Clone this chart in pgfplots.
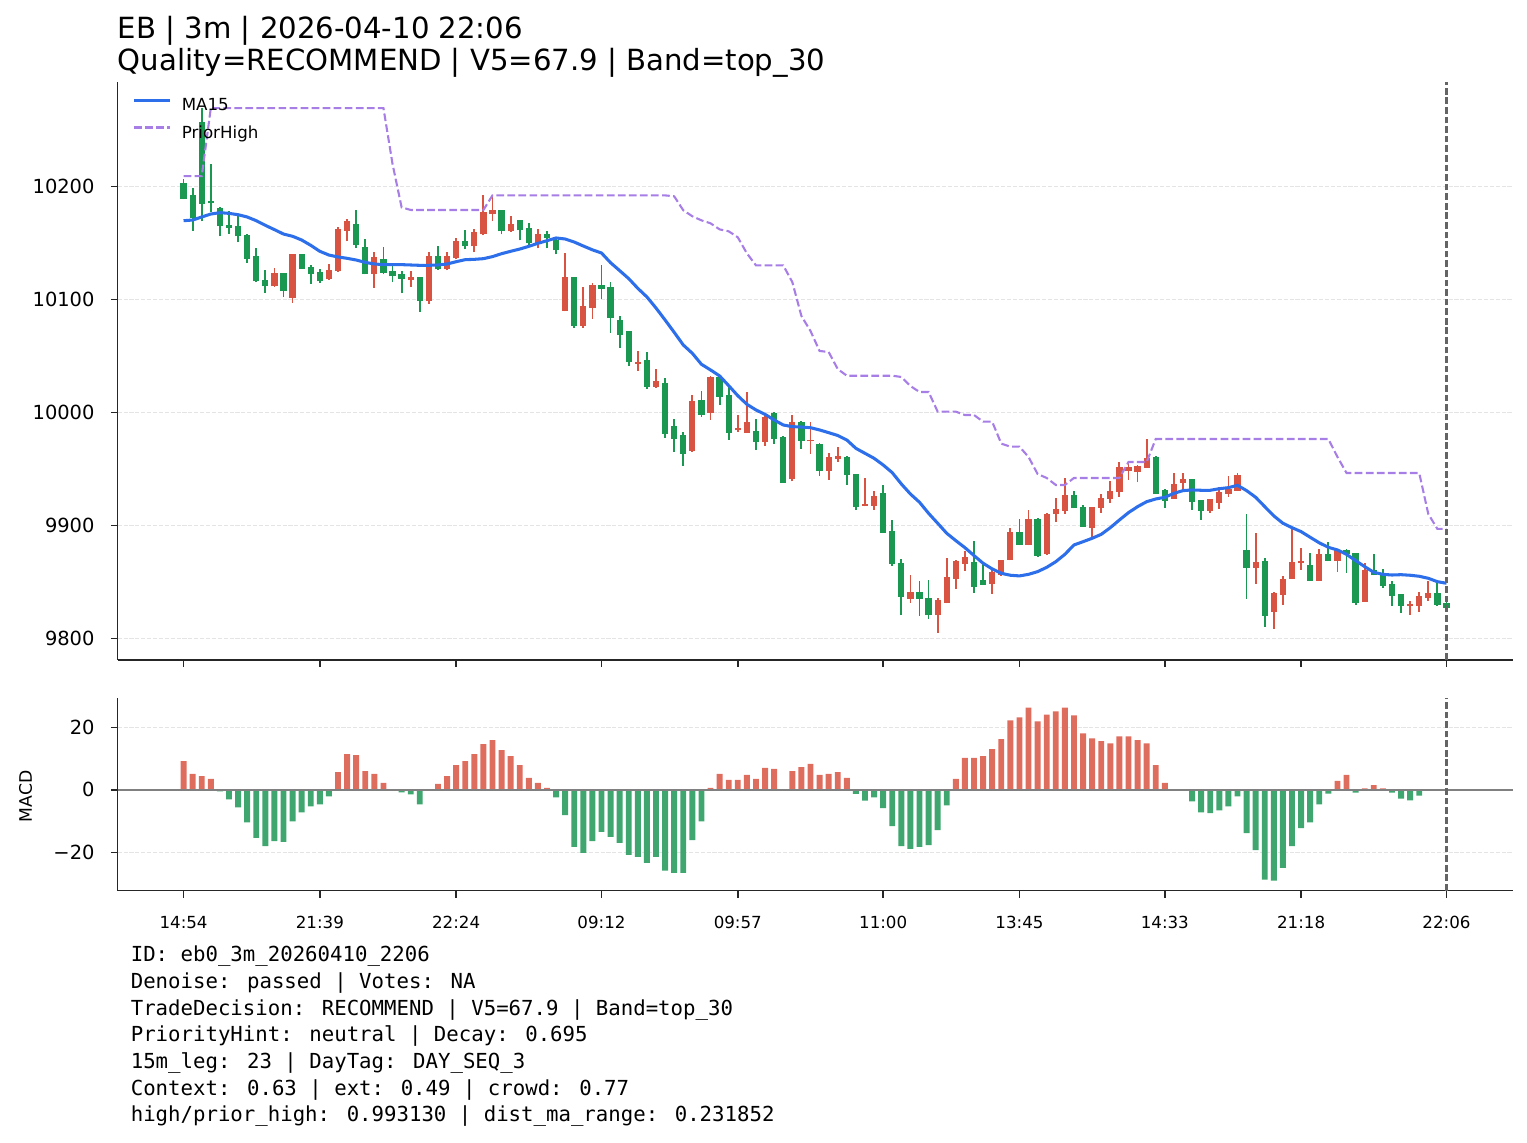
\documentclass[border=0pt]{standalone}
\usepackage{fontspec}
\setmainfont{DejaVu Sans}
\newfontfamily\monofont{DejaVu Sans Mono}
\usepackage{pgfplots}
\pgfplotsset{compat=1.18}
\usepackage{pgfplotstable}

\definecolor{cup}{RGB}{217,83,66}
\definecolor{cdown}{RGB}{26,152,82}
\definecolor{mup}{RGB}{223,109,93}
\definecolor{mdown}{RGB}{62,166,110}
\definecolor{macol}{RGB}{45,110,235}
\definecolor{phcol}{RGB}{167,125,230}
\definecolor{axiscol}{RGB}{38,38,38}
\definecolor{gridcol}{RGB}{228,228,228}
\definecolor{vcol}{RGB}{100,100,100}
\definecolor{zerocol}{RGB}{128,128,128}

% candles, red = close above open
\pgfplotstableread{
i o h l c
10 10111.5 10127.7 10111.2 10123.3
12 10101.5 10140.5 10096.8 10140.1
16 10117.7 10131.3 10117.4 10125.7
17 10125.4 10164.0 10124.2 10162.5
18 10160.8 10170.8 10151.3 10169.6
21 10122.4 10141.6 10110.0 10137.2
25 10117.1 10124.8 10110.9 10119.5
27 10098.5 10141.6 10096.2 10138.0
29 10126.5 10141.6 10125.7 10138.0
30 10136.3 10154.0 10135.4 10151.3
32 10146.9 10161.9 10141.6 10159.3
33 10157.5 10192.0 10156.6 10177.0
34 10175.2 10191.2 10169.0 10178.8
36 10160.2 10173.5 10159.8 10166.4
39 10149.6 10161.9 10145.1 10157.5
42 10089.7 10140.7 10089.3 10119.5
44 10076.4 10110.6 10074.9 10093.8
45 10092.3 10114.2 10082.6 10112.4
50 10043.1 10054.3 10036.9 10044.5
52 10022.7 10038.3 10021.8 10027.7
56 9966.1 10015.3 9965.2 10010.0
58 9999.7 10032.4 9993.5 10031.3
61 9984.1 9997.6 9982.9 9986.1
62 9982.0 10018.0 9981.6 9991.7
64 9974.0 9999.7 9970.5 9996.2
67 9940.7 9997.6 9938.9 9991.7
69 9974.3 9991.7 9963.4 9975.8
71 9948.4 9964.3 9940.4 9960.8
72 9959.0 9969.6 9956.3 9961.7
75 9917.1 9941.9 9916.7 9918.9
76 9917.1 9930.4 9913.6 9926.0
80 9834.8 9856.0 9831.3 9841.0
83 9820.6 9835.7 9805.0 9833.9
84 9831.3 9871.1 9831.0 9854.3
85 9852.5 9869.3 9843.7 9868.4
86 9865.8 9877.3 9859.6 9872.0
89 9848.1 9862.2 9839.2 9858.7
90 9856.0 9869.6 9855.2 9869.3
91 9869.3 9897.6 9869.0 9894.1
93 9882.6 9913.6 9882.3 9905.6
95 9874.6 9910.9 9873.7 9910.0
96 9910.0 9924.2 9902.9 9914.5
97 9912.7 9941.9 9910.0 9926.8
100 9897.9 9916.3 9890.0 9915.9
101 9915.6 9927.7 9911.2 9924.2
102 9923.3 9939.2 9920.1 9930.4
103 9929.8 9956.0 9925.4 9951.6
104 9948.4 9956.0 9940.1 9951.6
105 9947.2 9953.4 9938.3 9952.5
106 9951.0 9976.4 9950.6 9959.6
109 9923.6 9946.3 9923.2 9936.6
110 9937.8 9946.3 9929.8 9941.0
113 9912.7 9923.6 9911.2 9923.3
114 9920.1 9933.9 9914.7 9929.5
115 9928.0 9943.7 9925.4 9932.2
116 9930.7 9946.3 9930.3 9944.5
118 9862.5 9893.2 9848.4 9867.6
120 9823.6 9841.3 9808.6 9840.4
121 9838.6 9855.2 9829.8 9852.5
122 9852.8 9896.8 9852.4 9867.6
123 9866.4 9879.9 9860.8 9868.4
125 9851.0 9879.1 9850.6 9874.6
127 9868.7 9878.6 9858.7 9878.2
130 9832.4 9866.7 9832.0 9860.5
135 9828.9 9833.3 9821.0 9830.7
136 9828.9 9841.3 9823.6 9837.8
137 9836.0 9851.0 9833.3 9840.4
}\upcandles

% candles, green = close below open
\pgfplotstableread{
i o h l c
0 10203.2 10206.5 10188.5 10189.1
1 10192.3 10198.5 10160.8 10172.0
2 10256.9 10269.3 10169.0 10184.7
3 10187.0 10219.8 10177.3 10185.0
4 10180.8 10181.4 10155.8 10164.6
5 10165.8 10177.9 10158.1 10163.4
6 10164.9 10175.8 10150.4 10155.8
7 10156.9 10157.5 10132.4 10136.0
8 10138.3 10145.4 10115.3 10115.9
9 10117.1 10125.7 10105.9 10111.5
11 10123.3 10123.6 10102.1 10107.1
13 10140.1 10140.5 10127.0 10127.1
14 10128.6 10130.4 10113.9 10122.7
15 10124.2 10126.5 10114.5 10116.2
19 10166.4 10179.1 10145.7 10147.8
20 10146.0 10153.1 10122.0 10122.4
22 10135.4 10146.0 10122.4 10123.3
23 10124.8 10129.2 10115.3 10120.4
24 10122.1 10124.8 10105.6 10118.0
26 10119.5 10120.0 10088.8 10098.5
28 10138.0 10146.9 10126.0 10126.5
31 10151.3 10161.1 10144.2 10146.9
35 10178.8 10179.2 10157.5 10160.2
37 10169.9 10170.3 10152.2 10161.1
38 10162.8 10167.3 10146.9 10149.6
40 10157.5 10160.2 10145.1 10154.0
41 10152.2 10154.9 10139.8 10143.4
43 10119.5 10120.0 10074.9 10076.4
46 10112.4 10130.1 10100.3 10109.4
47 10110.9 10115.3 10070.5 10083.8
48 10081.7 10085.3 10057.2 10068.7
49 10072.0 10072.4 10041.3 10044.8
51 10046.3 10053.4 10020.9 10022.7
53 10026.0 10030.4 9977.6 9981.1
54 9987.9 9994.1 9965.2 9976.7
55 9979.9 9982.6 9952.8 9963.4
57 10010.9 10018.9 9996.2 9997.9
59 10031.3 10032.4 10006.8 10013.9
60 10015.3 10023.3 9975.8 9982.0
63 9983.5 9994.1 9966.9 9974.0
65 9999.7 10000.6 9972.3 9976.7
66 9978.2 9978.6 9937.6 9937.8
68 9991.7 9992.1 9967.8 9974.9
70 9972.3 9972.7 9943.9 9948.4
73 9960.5 9960.9 9935.7 9944.5
74 9945.4 9945.8 9913.6 9916.2
77 9928.6 9935.7 9893.0 9893.2
78 9895.0 9904.7 9864.0 9865.8
79 9866.7 9870.2 9820.6 9836.6
81 9841.0 9850.7 9820.1 9834.8
82 9835.7 9851.6 9817.1 9820.6
87 9867.5 9886.1 9840.1 9845.4
88 9851.6 9866.7 9847.0 9847.2
92 9894.1 9905.6 9882.4 9882.6
94 9905.6 9906.5 9872.0 9872.9
98 9926.8 9930.4 9915.0 9915.3
99 9916.2 9918.0 9898.5 9898.8
107 9960.5 9960.9 9927.6 9928.0
108 9931.6 9932.0 9915.6 9921.8
111 9941.0 9941.4 9913.9 9920.9
112 9922.1 9922.5 9905.0 9912.7
117 9878.2 9910.0 9835.1 9862.5
119 9868.4 9871.1 9810.3 9820.1
124 9864.9 9875.5 9850.6 9851.0
126 9874.6 9885.3 9868.3 9868.7
128 9878.2 9878.6 9858.1 9874.6
129 9875.5 9875.9 9829.8 9831.6
131 9860.5 9874.6 9855.6 9856.0
132 9856.0 9861.4 9844.8 9846.6
133 9848.1 9850.7 9828.9 9837.8
134 9839.2 9839.6 9822.7 9828.9
138 9840.4 9849.3 9828.9 9829.8
139 9831.6 9832.0 9825.4 9827.1
}\downcandles

% MA15 and prior high
\pgfplotstableread{
i ma ph
0 10169.6 10209.0
1 10170.2 10209.0
2 10172.9 10209.0
3 10175.5 10269.3
4 10176.7 10269.3
5 10176.1 10269.3
6 10174.9 10269.3
7 10172.9 10269.3
8 10169.6 10269.3
9 10165.5 10269.3
10 10161.7 10269.3
11 10157.8 10269.3
12 10155.8 10269.3
13 10152.5 10269.3
14 10147.8 10269.3
15 10142.5 10269.3
16 10139.2 10269.3
17 10137.5 10269.3
18 10136.3 10269.3
19 10134.8 10269.3
20 10132.7 10269.3
21 10131.3 10269.3
22 10130.7 10269.3
23 10130.7 10219.8
24 10130.7 10181.4
25 10130.4 10179.1
26 10130.1 10179.1
27 10130.1 10179.1
28 10130.4 10179.1
29 10131.3 10179.1
30 10133.3 10179.1
31 10135.1 10179.1
32 10135.4 10179.1
33 10136.0 10179.1
34 10137.8 10192.0
35 10140.4 10192.0
36 10142.5 10192.0
37 10144.5 10192.0
38 10146.9 10192.0
39 10149.6 10192.0
40 10151.9 10192.0
41 10154.3 10192.0
42 10153.4 10192.0
43 10150.7 10192.0
44 10147.2 10192.0
45 10143.8 10192.0
46 10141.0 10192.0
47 10132.4 10192.0
48 10125.4 10192.0
49 10118.3 10192.0
50 10109.7 10192.0
51 10102.1 10192.0
52 10092.3 10192.0
53 10081.7 10192.0
54 10070.8 10191.2
55 10059.6 10178.8
56 10052.2 10173.5
57 10042.5 10169.9
58 10037.5 10167.3
59 10032.2 10161.9
60 10023.6 10160.2
61 10014.7 10154.9
62 10007.1 10140.7
63 10002.1 10130.1
64 9998.2 10130.1
65 9993.2 10130.1
66 9988.8 10130.1
67 9987.3 10115.3
68 9987.0 10085.3
69 9986.4 10072.0
70 9984.4 10054.3
71 9982.0 10053.4
72 9979.5 10038.3
73 9975.5 10032.4
74 9968.1 10032.4
75 9963.7 10032.4
76 9959.3 10032.4
77 9953.4 10032.4
78 9946.6 10032.4
79 9936.6 10031.3
80 9927.7 10023.3
81 9920.4 10018.0
82 9910.6 10018.0
83 9901.8 10000.6
84 9892.9 10000.6
85 9886.4 10000.6
86 9880.2 9997.6
87 9873.2 9997.6
88 9866.4 9991.7
89 9861.4 9991.7
90 9857.5 9972.3
91 9855.8 9969.6
92 9855.2 9969.6
93 9856.6 9960.5
94 9859.0 9945.4
95 9862.8 9941.9
96 9867.8 9935.7
97 9874.3 9935.7
98 9882.6 9941.9
99 9885.5 9941.9
100 9888.5 9941.9
101 9892.0 9941.9
102 9897.9 9941.9
103 9904.7 9941.9
104 9911.2 9956.0
105 9916.5 9956.0
106 9920.9 9956.0
107 9923.3 9976.4
108 9924.8 9976.4
109 9928.3 9976.4
110 9930.7 9976.4
111 9931.3 9976.4
112 9931.0 9976.4
113 9931.0 9976.4
114 9932.4 9976.4
115 9933.3 9976.4
116 9935.4 9976.4
117 9930.7 9976.4
118 9924.8 9976.4
119 9916.5 9976.4
120 9908.3 9976.4
121 9901.8 9976.4
122 9897.9 9976.4
123 9894.4 9976.4
124 9889.4 9976.4
125 9884.5 9976.4
126 9880.5 9976.4
127 9878.2 9960.5
128 9874.3 9946.3
129 9868.7 9946.3
130 9863.4 9946.3
131 9858.4 9946.3
132 9856.6 9946.3
133 9856.0 9946.3
134 9856.3 9946.3
135 9855.8 9946.3
136 9854.9 9946.3
137 9853.1 9910.0
138 9850.1 9896.8
139 9848.7 9896.8
}\lines

% MACD histogram
\pgfplotstableread{
i m
0 9.2
1 5.1
2 4.4
3 3.5
4 -0.5
5 -3.1
6 -5.6
7 -10.4
8 -15.4
9 -18.0
10 -16.4
11 -16.7
12 -10.1
13 -7.2
14 -5.3
15 -4.7
16 -2.1
17 5.7
18 11.4
19 11.1
20 6.0
21 5.1
22 2.2
23 -0.2
24 -0.8
25 -1.5
26 -4.7
27 0.2
28 1.9
29 4.4
30 7.9
31 9.2
32 11.4
33 14.6
34 15.9
35 12.7
36 10.8
37 7.9
38 3.8
39 2.2
40 0.6
41 -2.4
42 -8.1
43 -18.3
44 -20.2
45 -16.4
46 -13.5
47 -15.1
48 -17.0
49 -20.8
50 -21.5
51 -23.4
52 -21.5
53 -25.9
54 -26.6
55 -26.6
56 -16.1
57 -10.1
58 0.6
59 5.1
60 3.2
61 3.2
62 4.8
63 3.5
64 7.0
65 6.7
66 0.1
67 6.0
68 7.3
69 8.3
70 4.8
71 5.1
72 5.7
73 3.8
74 -1.3
75 -3.5
76 -2.4
77 -5.9
78 -11.6
79 -18.0
80 -18.9
81 -18.3
82 -17.7
83 -12.9
84 -5.0
85 3.5
86 10.2
87 10.2
88 10.8
89 13.0
90 16.2
91 22.2
92 23.2
93 26.3
94 21.9
95 24.1
96 25.1
97 26.3
98 23.8
99 18.1
100 16.5
101 15.6
102 14.9
103 17.1
104 17.1
105 15.9
106 14.9
107 7.9
108 2.2
109 0.1
110 -0.1
111 -3.7
112 -7.2
113 -7.5
114 -6.6
115 -5.3
116 -2.1
117 -13.9
118 -19.3
119 -28.8
120 -29.1
121 -25.0
122 -18.0
123 -12.3
124 -10.4
125 -4.7
126 -1.2
127 2.9
128 4.8
129 -0.9
130 0.5
131 1.5
132 0.5
133 -0.9
134 -2.8
135 -3.4
136 -1.9
}\macd

\pgfplotsset{
  panel/.style={
    scale only axis, width=1004.8bp,
    xmin=-7.25, xmax=146.35,
    scaled x ticks=false, scaled y ticks=false,
    axis x line*=bottom, axis y line*=left,
    axis line style={-, line width=1.1bp, draw=axiscol},
    tick align=outside, major tick length=5bp,
    tick style={line width=1.1bp, draw=axiscol},
    xtick={0,15,30,46,61,77,92,108,123,139},
    ymajorgrids,
    major grid style={gridcol, line width=0.8bp, dash pattern=on 2.96bp off 1.28bp},
    yticklabel style={font=\fontsize{14bp}{16bp}\selectfont, inner sep=0pt, xshift=-11.5bp},
    /pgf/number format/assume math mode=true,
  },
  wick/.style={forget plot, only marks, mark=*, mark options={draw opacity=0, fill opacity=0}, color=#1,
    error bars/.cd, y dir=plus, y explicit, error mark=none,
    error bar style={solid, line width=1.3bp, draw=#1}},
  body/.style={forget plot, only marks, mark=*, mark options={draw opacity=0, fill opacity=0}, color=#1,
    error bars/.cd, y dir=plus, y explicit, error mark=none,
    error bar style={solid, line width=4.5bp, draw=#1}},
}

\begin{document}
\begin{tikzpicture}
\path[use as bounding box] (0,0) rectangle (1099.44bp,-822.96bp);

\node[anchor=base west, inner sep=0pt, font=\fontsize{21bp}{25bp}\selectfont] at (84.74bp,-27.7bp) {EB | 3m | 2026-04-10 22:06};
\node[anchor=base west, inner sep=0pt, font=\fontsize{21bp}{25bp}\selectfont] at (84.74bp,-50.4bp) {Quality=RECOMMEND | V5=67.9 | Band=top\_30};

\begin{axis}[panel,
  at={(84.74bp,-58.68bp)}, anchor=north west, height=416.5bp,
  ymin=9780.8, ymax=10292.8,
  xticklabels={},
  ytick={9800,9900,10000,10100,10200},
  yticklabels={9800,9900,10000,10100,10200},
  legend style={at={(axis description cs:0.0105,0.971)}, anchor=north west,
    draw=none, fill=none, inner sep=0pt, row sep=9.3bp,
    font=\fontsize{12bp}{14bp}\selectfont,
    nodes={inner sep=0pt},
    /tikz/every odd column/.append style={column sep=7.7bp}},
  legend cell align=left,
  legend image code/.code={\draw[#1, line cap=butt] (0bp,4.2bp) -- (25.5bp,4.2bp);},
]
\addplot[wick=cup] table[x=i, y=l, y error expr=\thisrow{h}-\thisrow{l}] {\upcandles};
\addplot[wick=cdown] table[x=i, y=l, y error expr=\thisrow{h}-\thisrow{l}] {\downcandles};
\addplot[body=cup] table[x=i, y=o, y error expr=\thisrow{c}-\thisrow{o}] {\upcandles};
\addplot[body=cdown] table[x=i, y=c, y error expr=\thisrow{o}-\thisrow{c}] {\downcandles};
\addplot[macol, line width=2.2bp] table[x=i, y=ma] {\lines};
\addlegendentry{MA15}
\addplot[phcol, line width=1.5bp, dash pattern=on 5.55bp off 2.4bp] table[x=i, y=ph] {\lines};
\addlegendentry{PriorHigh}
\addplot[forget plot, vcol, line width=1.5bp, dash pattern=on 4.8bp off 2.1bp] coordinates {(139,9780.8) (139,10292.8)};
\end{axis}

\begin{axis}[panel,
  at={(84.74bp,-502.78bp)}, anchor=north west, height=138.5bp,
  ymin=-32.3, ymax=29.3,
  xticklabels={14:54,21:39,22:24,09:12,09:57,11:00,13:45,14:33,21:18,22:06},
  xticklabel style={font=\fontsize{12bp}{14bp}\selectfont, inner sep=0pt, yshift=-13.2bp},
  ytick={-20,0,20},
  yticklabels={−20,0,20},
  ylabel={MACD},
  every axis y label/.style={at={(axis description cs:-0.0659,0.49)}, rotate=90, anchor=center,
    font=\fontsize{12.4bp}{14bp}\selectfont},
]
\addplot[ybar, bar width=0.65, bar shift=0pt, draw=none, fill=mup, restrict y to domain=0:100] table[x=i, y=m] {\macd};
\addplot[ybar, bar width=0.65, bar shift=0pt, draw=none, fill=mdown, restrict y to domain=-100:0] table[x=i, y=m] {\macd};
\addplot[zerocol, line width=1.1bp] coordinates {(-7.25,0) (146.35,0)};
\addplot[vcol, line width=1.5bp, dash pattern=on 4.8bp off 2.1bp] coordinates {(139,-32.3) (139,29.3)};
\end{axis}

\begin{scope}[every node/.style={anchor=base west, inner sep=0pt, font=\monofont\fontsize{14.9bp}{19.2bp}\selectfont}]
\node at (94bp,-692.4bp) {ID: eb0\_3m\_20260410\_2206};
\node at (94bp,-711.6bp) {Denoise: passed | Votes: NA};
\node at (94bp,-730.8bp) {TradeDecision: RECOMMEND | V5=67.9 | Band=top\_30};
\node at (94bp,-750.0bp) {PriorityHint: neutral | Decay: 0.695};
\node at (94bp,-769.2bp) {15m\_leg: 23 | DayTag: DAY\_SEQ\_3};
\node at (94bp,-788.4bp) {Context: 0.63 | ext: 0.49 | crowd: 0.77};
\node at (94bp,-807.6bp) {high/prior\_high: 0.993130 | dist\_ma\_range: 0.231852};
\end{scope}
\end{tikzpicture}
\end{document}
